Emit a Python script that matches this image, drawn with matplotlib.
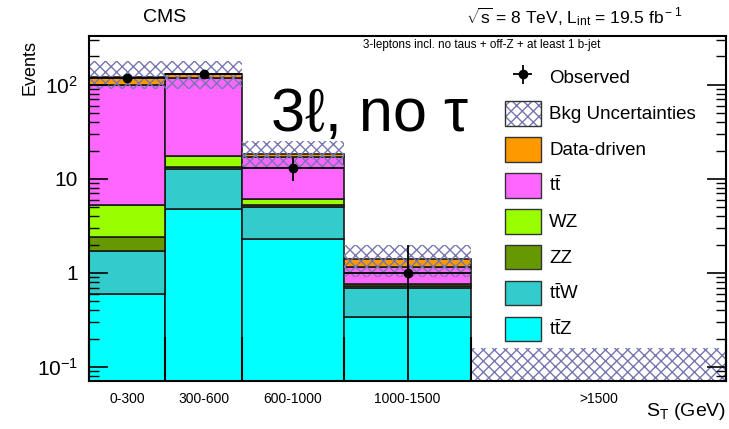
import matplotlib
matplotlib.use('Agg')
import matplotlib.pyplot as plt
from matplotlib.patches import Patch
from matplotlib.legend_handler import HandlerTuple
import numpy as np

plt.rcParams['font.family'] = ['Liberation Sans', 'DejaVu Sans']
plt.rcParams['mathtext.fontset'] = 'custom'
plt.rcParams['mathtext.rm'] = 'Liberation Sans'
plt.rcParams['mathtext.it'] = 'Liberation Sans:italic'
plt.rcParams['mathtext.bf'] = 'Liberation Sans:bold'
plt.rcParams['hatch.linewidth'] = 1.0

# S_T bins [GeV]
bin_edges = [0, 300, 600, 1000, 1500, 2500]
bin_labels = ['0-300', '300-600', '600-1000', '1000-1500', '>1500']

# background contributions per bin (stacked bottom to top)
ttZ = [0.59, 4.73, 2.28, 0.34, 0.0]
ttW = [1.12, 7.9, 2.76, 0.36, 0.0]
ZZ = [0.70, 0.8, 0.17, 0.02, 0.0]
WZ = [2.84, 4.2, 0.87, 0.05, 0.0]
ttbar = [93.8, 101.0, 11.2, 0.39, 0.0]
data_driven = [22.6, 12.3, 1.2, 0.26, 0.0]

# background uncertainty band (lower / upper edge)
unc_lo = [91.0, 91.0, 12.9, 0.91, 0.0]
unc_hi = [180.0, 180.0, 25.4, 1.97, 0.16]

# observed events (first four bins)
obs = [117, 130, 13, 1]

samples = [ttZ, ttW, ZZ, WZ, ttbar, data_driven]
tt = r'$\mathrm{t}\bar{\mathrm{t}}$'
names = [tt[:-1] + r'\mathrm{Z}$', tt[:-1] + r'\mathrm{W}$', 'ZZ', 'WZ', tt, 'Data-driven']
colors = ['#00ffff', '#33cccc', '#669900', '#99ff00', '#ff66ff', '#ff9900']
hatch_col = '#7676b0'
hatch = 'xxx'

edges = np.array(bin_edges, dtype=float)
widths = np.diff(edges)
centers = edges[:-1] + widths / 2

fig = plt.figure(figsize=(7.29, 4.29), dpi=100)
ax = fig.add_axes([89 / 729, 48 / 429, 637 / 729, 345 / 429])
ax.set_yscale('log')

bottom = np.zeros(len(widths))
for vals, c in zip(samples, colors):
    vals = np.array(vals)
    ax.bar(edges[:-1], vals, width=widths, bottom=bottom, align='edge',
           color=c, edgecolor='#1a1a1a', linewidth=1.2, zorder=1)
    bottom = bottom + vals

lo = np.array(unc_lo)
hi = np.array(unc_hi)
ax.bar(edges[:-1], hi - lo, width=widths, bottom=lo, align='edge',
       facecolor='none', edgecolor=hatch_col, hatch=hatch, linewidth=0, zorder=1.5)

obs = np.array(obs, dtype=float)
n = len(obs)
eb = ax.errorbar(centers[:n], obs, yerr=np.sqrt(obs), xerr=widths[:n] / 2,
                 fmt='o', color='black', ms=6, elinewidth=1.3, capsize=0, zorder=5)

ax.set_xlim(0, 2500)
ax.set_ylim(0.071, 330)

# bin labels at the centres, bin edges marked with long inner ticks
ax.set_xticks(centers)
ax.set_xticklabels(bin_labels, fontsize=10)
ax.set_xticks(edges, minor=True)
ax.tick_params(axis='x', which='major', length=0, pad=8)
ax.tick_params(axis='x', which='minor', direction='in', length=32, width=1.5)

ax.set_yticks([0.1, 1, 10, 100])
ax.set_yticklabels([r'10$^{-1}$', '1', '10', r'10$^{2}$'], fontsize=15)
ax.yaxis.set_minor_locator(matplotlib.ticker.LogLocator(base=10, subs=np.arange(2, 10)))
ax.yaxis.set_minor_formatter(matplotlib.ticker.NullFormatter())
ax.tick_params(axis='y', which='major', direction='in', length=14, width=1.2,
               left=True, right=True, pad=8)
ax.tick_params(axis='y', which='minor', direction='in', length=7, width=1.0,
               left=True, right=True)

for s in ax.spines.values():
    s.set_linewidth(1.5)

fig.text(30 / 729, 1 - 40 / 429, 'Events', rotation=90, ha='center', va='top', fontsize=13)
fig.text(726 / 729, 1 - 412 / 429, r'S$_{\rm T}$ (GeV)', ha='right', va='center', fontsize=14)

fig.text(165 / 729, 1 - 17 / 429, 'CMS', ha='center', va='center', fontsize=14)
fig.text(682 / 729, 1 - 17 / 429,
         r'$\sqrt{\rm s}$ = 8 TeV, L$_{\rm int}$ = 19.5 fb$^{\rm -1}$',
         ha='right', va='center', fontsize=12.5)
fig.text(600 / 729, 1 - 45 / 429, '3-leptons incl. no taus + off-Z + at least 1 b-jet',
         ha='right', va='center', fontsize=8.4)
fig.text(271 / 729, 1 - 131 / 429, '3\u2113, no \u03c4', ha='left', va='baseline', fontsize=44)

# legend, top entry first
handles = [eb,
           (Patch(facecolor='white', edgecolor=hatch_col, hatch=hatch, linewidth=0),
            Patch(facecolor='none', edgecolor='#333333', linewidth=1.0))]
labels = ['Observed', 'Bkg Uncertainties']
for name, c in zip(names[::-1], colors[::-1]):
    handles.append(Patch(facecolor=c, edgecolor='#333333', linewidth=1.0))
    labels.append(name)
ax.legend(handles, labels, loc='upper left', bbox_to_anchor=(505 / 729, 1 - 65 / 429),
          bbox_transform=fig.transFigure, frameon=False, fontsize=13.5,
          handlelength=1.9, handleheight=1.65, labelspacing=0.6, handletextpad=0.45,
          borderpad=0, borderaxespad=0,
          handler_map={tuple: HandlerTuple(ndivide=1, pad=0)})

fig.savefig('out.png', dpi=100)
